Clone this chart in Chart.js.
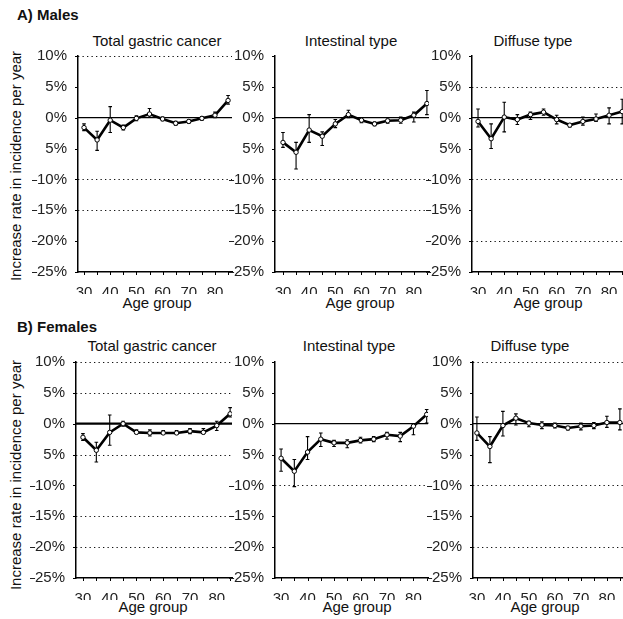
<!DOCTYPE html>
<html><head><meta charset="utf-8">
<script src="https://cdn.jsdelivr.net/npm/chart.js@4"></script>
<style>
html,body{margin:0;padding:0;background:#fff}
body{width:623px;height:619px;position:relative;overflow:hidden;font-family:"Liberation Sans",Arial,Helvetica,sans-serif;color:#111}
.t{position:absolute;white-space:nowrap;font-size:15px;line-height:1}
.c{transform:translate(-50%,-50%)}
.b{font-weight:bold}
.v{transform:translate(-50%,-50%) rotate(-90deg)}
canvas{position:absolute}
</style></head><body>

<div class="t b" style="left:17px;top:7px">A) Males</div>
<div class="t b" style="left:17px;top:319px">B) Females</div>

<div class="t c" style="left:157px;top:40px">Total gastric cancer</div>
<div class="t c" style="left:351px;top:40px">Intestinal type</div>
<div class="t c" style="left:533px;top:40px">Diffuse type</div>
<div class="t c" style="left:152px;top:345px">Total gastric cancer</div>
<div class="t c" style="left:349px;top:345px">Intestinal type</div>
<div class="t c" style="left:530px;top:345px">Diffuse type</div>

<div class="t v" style="left:15px;top:166px">Increase rate in incidence per year</div>
<div class="t v" style="left:15px;top:475px">Increase rate in incidence per year</div>

<div class="t c" style="left:157px;top:302px">Age group</div>
<div class="t c" style="left:360px;top:302px">Age group</div>
<div class="t c" style="left:548px;top:302px">Age group</div>
<div class="t c" style="left:153px;top:606px">Age group</div>
<div class="t c" style="left:357px;top:606px">Age group</div>
<div class="t c" style="left:545px;top:606px">Age group</div>

<canvas id="p1"></canvas><canvas id="p2"></canvas><canvas id="p3"></canvas>
<canvas id="p4"></canvas><canvas id="p5"></canvas><canvas id="p6"></canvas>

<script>
// ---------- data ----------
const ageGroups = [30,35,40,45,50,55,60,65,70,75,80,85];
const xTickValues = [30,40,50,60,70,80];
const xTickLabels = ['30','40','50','60','70','80'];
const yTickValues = [10,5,0,-5,-10,-15,-20,-25];
const yTickLabels = ['10%','5%','0%','5%','\u201310%','\u201315%','\u201320%','\u201325%'];

const maleTotal   = [-1.6,-3.6,-0.4,-1.6,-0.1,0.6,-0.2,-0.9,-0.6,-0.1,0.4,2.8];
const maleTotalLo = [-2.1,-5.3,-2.4,-2.0,-0.5,0.1,-0.5,-1.2,-0.9,-0.4,0.0,2.2];
const maleTotalHi = [-1.0,-2.2,1.8,-1.2,0.3,1.5,0.1,-0.6,-0.3,0.2,0.9,3.6];

const maleIntestinal   = [-4.0,-5.6,-2.0,-3.0,-1.0,0.5,-0.4,-1.0,-0.5,-0.4,0.4,2.3];
const maleIntestinalLo = [-4.8,-8.3,-4.0,-4.5,-1.6,0.0,-0.8,-1.3,-0.9,-0.9,-0.7,0.5];
const maleIntestinalHi = [-2.4,-4.0,0.5,-2.3,-0.3,1.2,0.0,-0.7,-0.2,0.1,0.9,4.4];

const maleDiffuse   = [-0.6,-3.4,0.1,-0.3,0.5,0.9,-0.3,-1.2,-0.6,-0.2,0.4,1.0];
const maleDiffuseLo = [-1.5,-5.0,-2.3,-1.1,-0.3,0.4,-1.0,-1.5,-1.2,-0.6,-1.0,-1.0];
const maleDiffuseHi = [1.4,-1.0,2.5,0.5,0.9,1.4,0.4,-1.0,0.1,0.6,1.6,3.0];

const femaleTotal   = [-2.2,-4.3,-1.4,0.0,-1.4,-1.5,-1.5,-1.5,-1.2,-1.4,-0.3,1.6];
const femaleTotalLo = [-2.7,-6.2,-3.5,-0.4,-1.6,-2.0,-1.7,-1.7,-1.6,-1.6,-1.1,1.1];
const femaleTotalHi = [-1.6,-3.0,1.4,0.4,-1.0,-1.0,-1.1,-1.1,-0.8,-0.8,0.4,2.6];

const femaleIntestinal   = [-5.6,-7.7,-4.6,-2.5,-3.1,-3.1,-2.7,-2.5,-1.8,-2.0,-0.4,1.5];
const femaleIntestinalLo = [-7.7,-10.2,-5.8,-3.7,-3.7,-3.9,-3.1,-2.9,-2.5,-2.9,-1.8,0.1];
const femaleIntestinalHi = [-4.1,-5.8,-2.1,-1.5,-2.7,-2.6,-2.2,-2.1,-1.4,-1.4,-0.2,2.3];

const femaleDiffuse   = [-1.5,-3.7,-0.3,0.9,0.1,-0.2,-0.3,-0.7,-0.4,-0.3,0.2,0.2];
const femaleDiffuseLo = [-2.7,-6.3,-2.0,-0.2,-0.5,-0.8,-0.7,-1.0,-1.0,-0.8,-0.6,-1.0];
const femaleDiffuseHi = [1.1,-2.1,2.0,1.6,0.4,0.3,0.1,-0.4,0.1,0.2,1.2,2.4];

// dotted reference levels visible in each panel
const maleTotalGrid = [10,-10,-15];
const maleIntestinalGrid = [-10,-15];
const maleDiffuseGrid = [5,-10,-20];
const femaleTotalGrid = [10,5,-5,-15,-20];
const femaleIntestinalGrid = [-10];
const femaleDiffuseGrid = [10,-10,-20];

// ---------- layout ----------
const FONT = '"Liberation Sans", Arial, Helvetica, sans-serif';
const panels = {
  p1:{v:maleTotal, lo:maleTotalLo, hi:maleTotalHi, levels:maleTotalGrid, L:78, R:232, T:56, B:272, xmin:27.7, xmax:86.5, zw:1.3},
  p2:{v:maleIntestinal, lo:maleIntestinalLo, hi:maleIntestinalHi, levels:maleIntestinalGrid, L:275, R:429, T:56, B:272, xmin:26.95, xmax:85.8, zw:1.3},
  p3:{v:maleDiffuse, lo:maleDiffuseLo, hi:maleDiffuseHi, levels:maleDiffuseGrid, L:472, R:623, T:56, B:272, xmin:27.7, xmax:85.3, zw:1.3},
  p4:{v:femaleTotal, lo:femaleTotalLo, hi:femaleTotalHi, levels:femaleTotalGrid, L:76, R:232, T:362, B:578, xmin:27.4, xmax:85.7, zw:2.2},
  p5:{v:femaleIntestinal, lo:femaleIntestinalLo, hi:femaleIntestinalHi, levels:femaleIntestinalGrid, L:275, R:428, T:362, B:578, xmin:27.7, xmax:85.5, zw:1.3},
  p6:{v:femaleDiffuse, lo:femaleDiffuseLo, hi:femaleDiffuseHi, levels:femaleDiffuseGrid, L:473, R:623, T:362, B:578, xmin:28.5, xmax:86.2, zw:1.3},
};

const YW = 46, XH = 22, PT = 10;

const refPlugin = {
  id:'refPlugin',
  beforeDatasetsDraw(chart){
    const p = panels[chart.canvas.id];
    const {ctx, chartArea:a, scales:{x,y}} = chart;
    ctx.save();
    // small tick marks on both axes
    ctx.strokeStyle = '#000'; ctx.lineWidth = 1;
    ageGroups.forEach(v => {
      const px = Math.round(x.getPixelForValue(v)) + 0.5;
      ctx.beginPath(); ctx.moveTo(px, a.bottom); ctx.lineTo(px, a.bottom + 3); ctx.stroke();
    });
    yTickValues.forEach(v => {
      const py = Math.round(y.getPixelForValue(v)) + 0.5;
      ctx.beginPath(); ctx.moveTo(a.left - 3, py); ctx.lineTo(a.left, py); ctx.stroke();
    });
    // dotted reference lines
    ctx.strokeStyle = '#111'; ctx.lineWidth = 1.1;
    ctx.setLineDash([1.3,3.2]);
    for (let k = 0; k < p.levels.length; k++) {
      const py = Math.round(y.getPixelForValue(p.levels[k])) + 0.5;
      ctx.beginPath(); ctx.moveTo(a.left, py); ctx.lineTo(a.right, py); ctx.stroke();
    }
    ctx.setLineDash([]);
    // zero line
    ctx.strokeStyle = '#000';
    ctx.lineWidth = p.zw;
    const zy = y.getPixelForValue(0);
    ctx.beginPath(); ctx.moveTo(a.left, zy); ctx.lineTo(a.right, zy); ctx.stroke();
    // error bars
    ctx.lineWidth = 1.1;
    ageGroups.forEach((age,i) => {
      const px = x.getPixelForValue(age);
      const y1 = y.getPixelForValue(p.lo[i]), y2 = y.getPixelForValue(p.hi[i]);
      ctx.beginPath();
      ctx.moveTo(px, y1); ctx.lineTo(px, y2);
      ctx.moveTo(px-1.8, y1); ctx.lineTo(px+1.8, y1);
      ctx.moveTo(px-1.8, y2); ctx.lineTo(px+1.8, y2);
      ctx.stroke();
    });
    ctx.restore();
  }
};

Object.keys(panels).forEach(id => {
  const p = panels[id];
  const cv = document.getElementById(id);
  const left = p.L - YW, top = p.T - PT;
  const w = p.R - left + 2, h = p.B - top + XH;
  cv.style.left = left + 'px'; cv.style.top = top + 'px';
  cv.width = w; cv.height = h; cv.style.width = w + 'px'; cv.style.height = h + 'px';
  new Chart(cv, {
    type:'line',
    data:{ datasets:[{
      data: ageGroups.map((a,i)=>({x:a, y:p.v[i]})),
      borderColor:'#000', borderWidth:2.6, tension:0,
      pointRadius:2.2, pointBackgroundColor:'#fff', pointBorderColor:'#000', pointBorderWidth:1
    }]},
    options:{
      responsive:false, animation:false, devicePixelRatio:1,
      layout:{padding:{top:PT, right:2, left:0, bottom:0}, autoPadding:false},
      plugins:{legend:{display:false}, tooltip:{enabled:false}, title:{display:false}},
      scales:{
        x:{type:'linear', min:p.xmin, max:p.xmax,
          afterBuildTicks: s => { s.ticks = ageGroups.map(v=>({value:v})); },
          afterFit: s => { s.height = XH; s.paddingLeft = 0; s.paddingRight = 0; },
          ticks:{autoSkip:false, maxRotation:0, minRotation:0, padding:4, color:'#222',
            font:{family:FONT, size:15},
            callback: v => { const k = xTickValues.indexOf(v); return k >= 0 ? xTickLabels[k] : ''; }},
          grid:{display:false},
          border:{display:true, color:'#000', width:1.5}
        },
        y:{type:'linear', min:-25, max:10,
          afterBuildTicks: s => { s.ticks = yTickValues.map(v=>({value:v})); },
          afterFit: s => { s.width = YW; s.paddingTop = 0; s.paddingBottom = 0; },
          ticks:{padding:3, color:'#222', font:{family:FONT, size:15},
            callback: v => { const k = yTickValues.indexOf(v); return k >= 0 ? yTickLabels[k] : ''; }},
          grid:{display:false},
          border:{display:true, color:'#000', width:1.5}
        }
      }
    },
    plugins:[refPlugin]
  });
});
</script>
</body></html>
